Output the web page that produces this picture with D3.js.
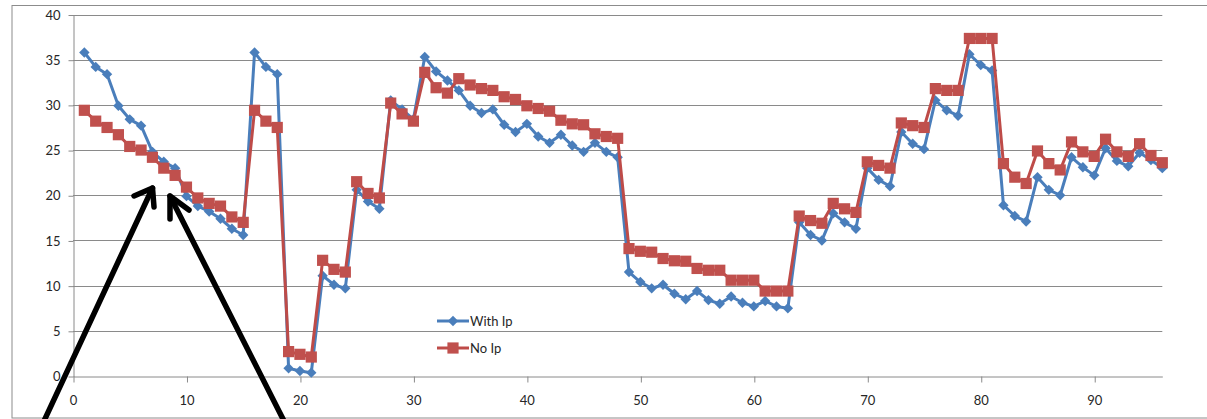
<!DOCTYPE html>
<html>
<head>
<meta charset="utf-8">
<script src="https://cdn.jsdelivr.net/npm/d3@7"></script>
<style>
  body { margin: 0; background: #fff; }
  svg { display: block; font-family: Lato, "Open Sans", sans-serif; }
</style>
</head>
<body>
<svg id="chart" width="1207" height="419"></svg>
<script>
// Series values, x = 1..96
var withIp = [35.8, 34.2, 33.4, 29.9, 28.4, 27.7, 24.8, 23.7, 23.0, 19.9,
    18.8, 18.2, 17.4, 16.3, 15.6, 35.8, 34.2, 33.4, 0.85, 0.55,
    0.37, 11.1, 10.1, 9.7, 20.6, 19.3, 18.5, 30.5, 29.5, 28.4,
    35.3, 33.7, 32.7, 31.6, 29.9, 29.1, 29.5, 27.8, 27.0, 27.9,
    26.5, 25.8, 26.7, 25.5, 24.8, 25.8, 24.8, 24.2, 11.5, 10.4,
    9.7, 10.1, 9.1, 8.5, 9.4, 8.4, 8.0, 8.8, 8.1, 7.7,
    8.3, 7.7, 7.5, 17.0, 15.6, 15.0, 18.0, 17.0, 16.3, 23.0,
    21.7, 21.0, 27.0, 25.7, 25.1, 30.5, 29.4, 28.8, 35.6, 34.4,
    33.8, 18.9, 17.7, 17.1, 22.0, 20.6, 20.0, 24.2, 23.1, 22.2,
    25.2, 23.8, 23.2, 24.7, 23.9, 23.0];

var noIp = [29.4, 28.2, 27.5, 26.7, 25.4, 25.0, 24.2, 23.0, 22.2, 20.9,
    19.7, 19.1, 18.8, 17.6, 17.0, 29.4, 28.2, 27.5, 2.7, 2.4,
    2.1, 12.8, 11.8, 11.5, 21.5, 20.2, 19.7, 30.2, 29.0, 28.2,
    33.6, 31.9, 31.3, 32.9, 32.2, 31.8, 31.6, 30.9, 30.6, 29.9,
    29.6, 29.3, 28.3, 27.9, 27.8, 26.8, 26.5, 26.3, 14.1, 13.8,
    13.7, 13.0, 12.75, 12.7, 11.9, 11.7, 11.7, 10.6, 10.6, 10.6,
    9.4, 9.4, 9.4, 17.7, 17.2, 16.9, 19.1, 18.5, 18.1, 23.7,
    23.3, 23.0, 28.0, 27.7, 27.5, 31.8, 31.6, 31.6, 37.35, 37.35,
    37.35, 23.5, 22.0, 21.3, 24.9, 23.5, 22.8, 25.9, 24.8, 24.3,
    26.2, 24.8, 24.3, 25.7, 24.4, 23.6];

var seriesNames = ["With Ip", "No Ip"];
var xTicks = [0, 10, 20, 30, 40, 50, 60, 70, 80, 90];
var yTicks = [0, 5, 10, 15, 20, 25, 30, 35, 40];

var svg = d3.select("#chart");

// outer chart border
svg.append("rect")
    .attr("x", 12).attr("y", 5.5)
    .attr("width", 1200).attr("height", 412.5)
    .attr("fill", "none")
    .attr("stroke", "#8c8c8c")
    .attr("stroke-width", 1);

var x = d3.scaleLinear().domain([0, 96]).range([73, 1162.3]);
var y = d3.scaleLinear().domain([0, 40]).range([376, 14.5]);

// horizontal gridlines
svg.append("g")
    .selectAll("line")
    .data(yTicks.filter(function (d) { return d > 0; }))
    .enter()
    .append("line")
    .attr("x1", x(0)).attr("x2", x(96))
    .attr("y1", function (d) { return Math.round(y(d)) + 0.5; })
    .attr("y2", function (d) { return Math.round(y(d)) + 0.5; })
    .attr("stroke", "#8a8a8a")
    .attr("stroke-width", 1);

// y axis
var yAxis = svg.append("g")
    .attr("transform", "translate(" + (x(0) + 0.5) + ",0.5)")
    .call(d3.axisLeft(y).tickValues(yTicks).tickSize(5).tickSizeOuter(0).tickPadding(8));

// x axis
var xAxis = svg.append("g")
    .attr("transform", "translate(0," + (Math.round(y(0)) + 0.5) + ")")
    .call(d3.axisBottom(x).tickValues(xTicks).tickSize(6).tickSizeOuter(0).tickPadding(13));

[yAxis, xAxis].forEach(function (ax) {
    ax.select(".domain").attr("stroke", "#8a8a8a");
    ax.selectAll(".tick line").attr("stroke", "#8a8a8a");
    ax.selectAll(".tick text")
        .attr("fill", "#262626")
        .style("font-size", "13px")
        .style("font-family", "Lato, sans-serif");
});
xAxis.selectAll(".tick line").attr("transform", "translate(0.5,0)");

var line = d3.line()
    .x(function (d, i) { return x(i + 1); })
    .y(function (d) { return y(d); });

var diamond = "M0,-5.2L5.2,0L0,5.2L-5.2,0Z";
var square = "M-5.6,-5.6H5.6V5.6H-5.6Z";

function drawSeries(values, stroke, fill, marker) {
    var g = svg.append("g");
    g.append("path")
        .datum(values)
        .attr("d", line)
        .attr("fill", "none")
        .attr("stroke", stroke)
        .attr("stroke-width", 3)
        .attr("stroke-linejoin", "round");
    g.selectAll(".pt")
        .data(values)
        .enter()
        .append("path")
        .attr("class", "pt")
        .attr("d", marker)
        .attr("transform", function (d, i) { return "translate(" + x(i + 1) + "," + y(d) + ")"; })
        .attr("fill", fill);
}

drawSeries(withIp, "#4a7ebb", "#4a7ebb", diamond);
drawSeries(noIp, "#be4b48", "#c0504d", square);

// legend
var legend = [
    { name: seriesNames[0], stroke: "#4a7ebb", fill: "#4a7ebb", marker: diamond, y: 321 },
    { name: seriesNames[1], stroke: "#be4b48", fill: "#c0504d", marker: square, y: 348 }
];
var lg = svg.append("g").selectAll("g")
    .data(legend)
    .enter()
    .append("g")
    .attr("transform", function (d) { return "translate(0," + d.y + ")"; });
lg.append("line")
    .attr("x1", 437).attr("x2", 469)
    .attr("stroke", function (d) { return d.stroke; })
    .attr("stroke-width", 3);
lg.append("path")
    .attr("d", function (d) { return d.marker; })
    .attr("transform", "translate(453,0)")
    .attr("fill", function (d) { return d.fill; });
lg.append("text")
    .attr("x", 470)
    .attr("dy", "0.35em")
    .attr("fill", "#262626")
    .style("font-size", "13px")
    .text(function (d) { return d.name; });

// annotation arrows
var arrows = [
    { x1: 44, y1: 421, x2: 152.5, y2: 188, b1: [134, 196], b2: [154, 207] },
    { x1: 284, y1: 421, x2: 170, y2: 196, b1: [170, 219], b2: [189, 210] }
];
var ag = svg.append("g")
    .attr("stroke", "#000")
    .attr("stroke-width", 5.5)
    .attr("fill", "none")
    .attr("stroke-linecap", "round")
    .attr("stroke-linejoin", "round");
arrows.forEach(function (a) {
    ag.append("path").attr("d", "M" + a.x1 + "," + a.y1 + "L" + a.x2 + "," + a.y2);
    ag.append("path").attr("d", "M" + a.b1[0] + "," + a.b1[1] + "L" + a.x2 + "," + a.y2 + "L" + a.b2[0] + "," + a.b2[1]);
});
</script>
</body>
</html>
